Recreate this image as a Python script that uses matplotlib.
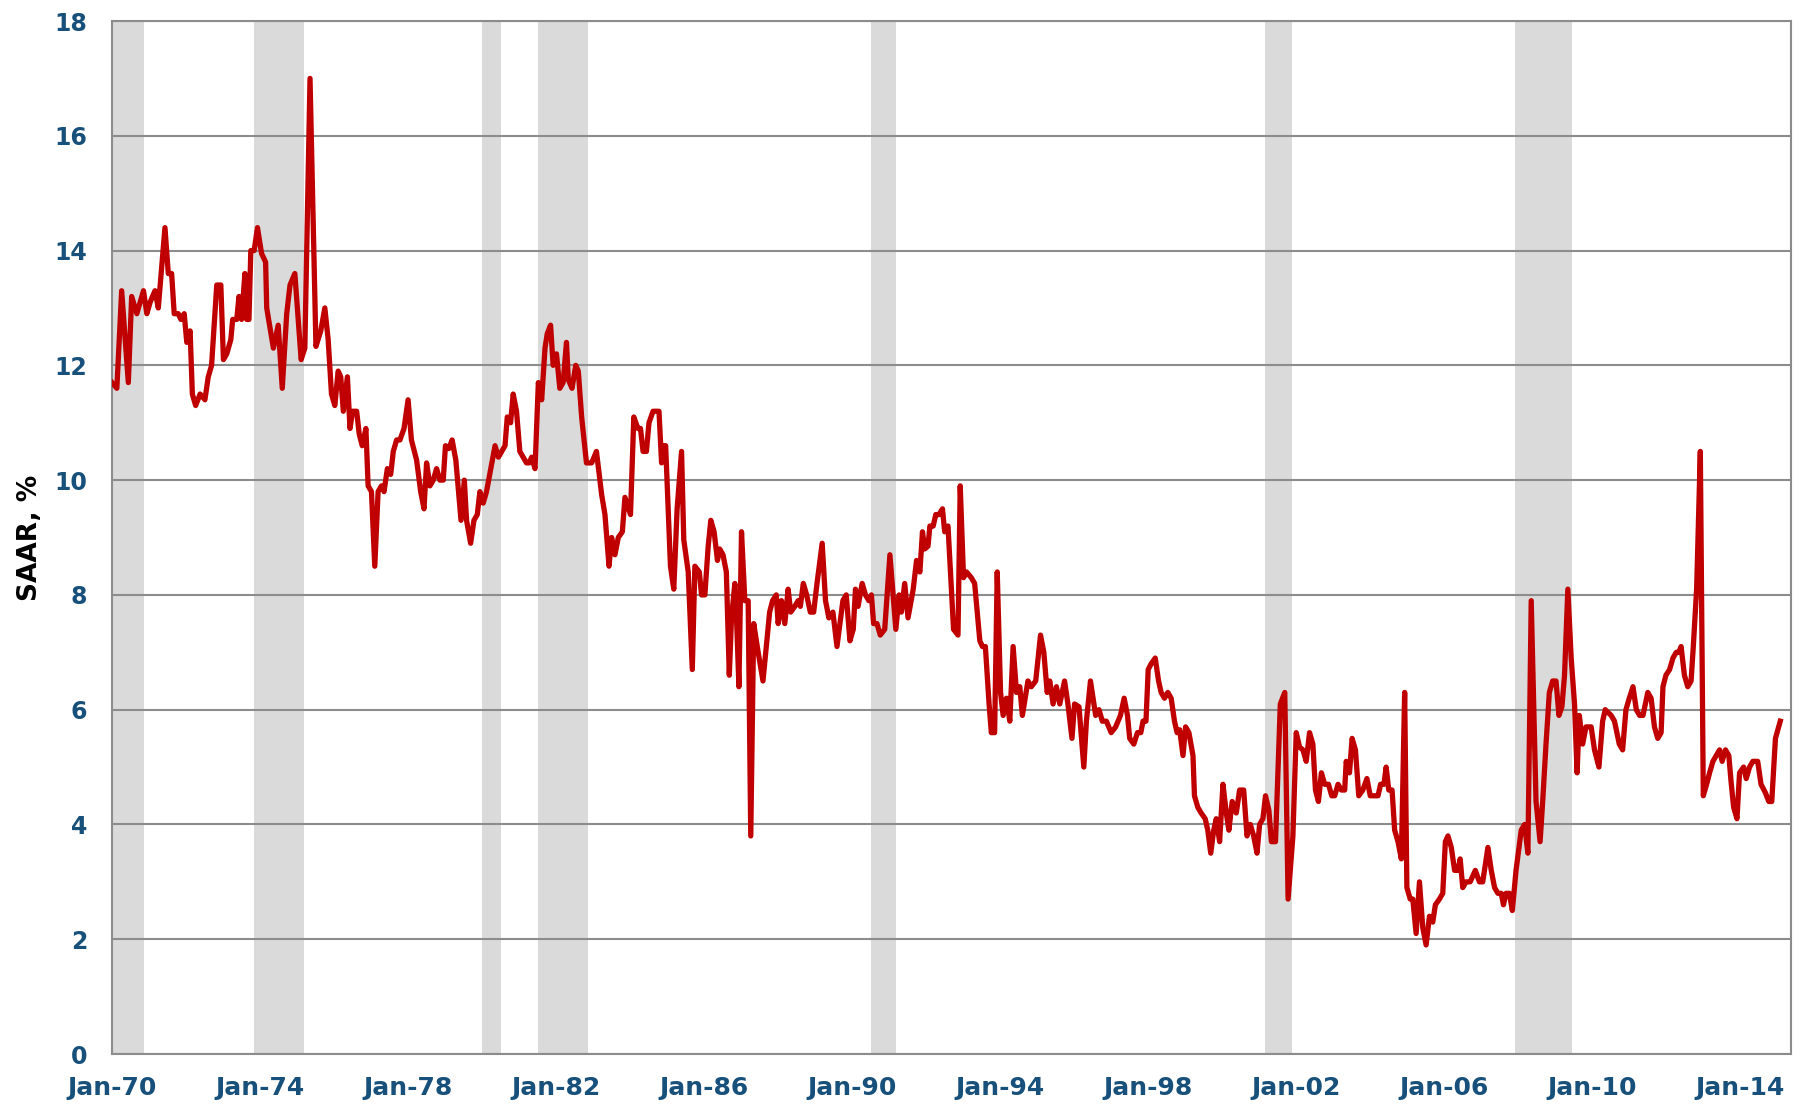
import matplotlib
matplotlib.use("Agg")
import matplotlib.pyplot as plt

# monthly saving rate (decimal year, SAAR %)
years = [
    1970.00, 1970.13, 1970.26, 1970.44, 1970.53, 1970.67, 1970.85, 1970.94, 1971.03, 1971.16,
    1971.25, 1971.43, 1971.52, 1971.61, 1971.68, 1971.79, 1971.86, 1971.95, 1972.02, 1972.11,
    1972.17, 1972.26, 1972.38, 1972.51, 1972.60, 1972.69, 1972.83, 1972.94, 1973.01, 1973.10,
    1973.21, 1973.26, 1973.37, 1973.43, 1973.50, 1973.59, 1973.64, 1973.70, 1973.75, 1973.84,
    1973.93, 1974.04, 1974.15, 1974.18, 1974.36, 1974.49, 1974.60, 1974.72, 1974.81, 1974.94,
    1975.11, 1975.21, 1975.35, 1975.51, 1975.64, 1975.75, 1975.84, 1975.93, 1976.02, 1976.11,
    1976.18, 1976.25, 1976.36, 1976.43, 1976.50, 1976.61, 1976.68, 1976.76, 1976.86, 1976.92,
    1977.01, 1977.10, 1977.19, 1977.28, 1977.35, 1977.44, 1977.53, 1977.60, 1977.69, 1977.78,
    1977.89, 1978.00, 1978.09, 1978.23, 1978.34, 1978.43, 1978.50, 1978.59, 1978.68, 1978.77,
    1978.86, 1978.95, 1979.01, 1979.10, 1979.19, 1979.29, 1979.43, 1979.52, 1979.58, 1979.69,
    1979.78, 1979.87, 1979.94, 1980.03, 1980.12, 1980.35, 1980.44, 1980.62, 1980.68, 1980.77,
    1980.84, 1980.93, 1981.02, 1981.20, 1981.27, 1981.34, 1981.43, 1981.52, 1981.61, 1981.70,
    1981.76, 1981.85, 1981.92, 1982.01, 1982.10, 1982.19, 1982.28, 1982.33, 1982.43, 1982.53,
    1982.60, 1982.69, 1982.82, 1982.96, 1983.09, 1983.23, 1983.32, 1983.43, 1983.50, 1983.59,
    1983.68, 1983.79, 1983.86, 1984.01, 1984.10, 1984.21, 1984.28, 1984.35, 1984.44, 1984.51,
    1984.62, 1984.78, 1984.85, 1984.89, 1984.96, 1985.09, 1985.18, 1985.27, 1985.39, 1985.45,
    1985.57, 1985.68, 1985.75, 1985.87, 1985.93, 1986.02, 1986.11, 1986.18, 1986.27, 1986.36,
    1986.42, 1986.51, 1986.60, 1986.68, 1986.74, 1986.83, 1986.87, 1986.94, 1987.01, 1987.10,
    1987.19, 1987.26, 1987.34, 1987.46, 1987.59, 1987.68, 1987.77, 1987.85, 1987.95, 1988.00,
    1988.09, 1988.18, 1988.27, 1988.34, 1988.45, 1988.54, 1988.60, 1988.68, 1988.77, 1988.87,
    1988.96, 1989.05, 1989.19, 1989.28, 1989.37, 1989.48, 1989.59, 1989.66, 1989.75, 1989.84,
    1989.94, 1990.03, 1990.09, 1990.16, 1990.27, 1990.36, 1990.45, 1990.52, 1990.58, 1990.67,
    1990.76, 1990.88, 1991.02, 1991.18, 1991.27, 1991.33, 1991.42, 1991.51, 1991.65, 1991.74,
    1991.83, 1991.90, 1991.96, 1992.05, 1992.10, 1992.19, 1992.26, 1992.35, 1992.44, 1992.50,
    1992.59, 1992.74, 1992.86, 1992.92, 1993.01, 1993.09, 1993.22, 1993.31, 1993.45, 1993.52,
    1993.60, 1993.70, 1993.76, 1993.85, 1993.92, 1994.01, 1994.08, 1994.17, 1994.26, 1994.35,
    1994.44, 1994.53, 1994.60, 1994.75, 1994.84, 1994.96, 1995.09, 1995.18, 1995.27, 1995.34,
    1995.43, 1995.52, 1995.61, 1995.74, 1995.83, 1995.94, 1996.01, 1996.13, 1996.26, 1996.33,
    1996.44, 1996.58, 1996.67, 1996.76, 1996.87, 1997.00, 1997.12, 1997.25, 1997.35, 1997.44,
    1997.50, 1997.61, 1997.71, 1997.80, 1997.86, 1997.94, 1998.00, 1998.08, 1998.19, 1998.28,
    1998.35, 1998.44, 1998.53, 1998.62, 1998.71, 1998.78, 1998.85, 1998.94, 1999.01, 1999.10,
    1999.21, 1999.25, 1999.34, 1999.43, 1999.54, 1999.61, 1999.69, 1999.77, 1999.84, 1999.93,
    2000.02, 2000.11, 2000.18, 2000.27, 2000.38, 2000.47, 2000.58, 2000.67, 2000.76, 2000.85,
    2000.94, 2001.01, 2001.10, 2001.17, 2001.26, 2001.33, 2001.44, 2001.57, 2001.69, 2001.78,
    2001.91, 2002.00, 2002.09, 2002.18, 2002.27, 2002.36, 2002.45, 2002.52, 2002.60, 2002.68,
    2002.77, 2002.87, 2002.96, 2003.04, 2003.13, 2003.22, 2003.31, 2003.35, 2003.44, 2003.51,
    2003.60, 2003.69, 2003.80, 2003.91, 2004.00, 2004.12, 2004.21, 2004.28, 2004.37, 2004.43,
    2004.50, 2004.59, 2004.66, 2004.75, 2004.84, 2004.93, 2004.99, 2005.08, 2005.15, 2005.24,
    2005.33, 2005.42, 2005.51, 2005.60, 2005.69, 2005.76, 2005.87, 2005.96, 2006.03, 2006.10,
    2006.19, 2006.28, 2006.37, 2006.43, 2006.50, 2006.59, 2006.70, 2006.84, 2006.95, 2007.04,
    2007.18, 2007.27, 2007.36, 2007.45, 2007.54, 2007.60, 2007.67, 2007.76, 2007.84, 2007.94,
    2008.08, 2008.17, 2008.26, 2008.35, 2008.48, 2008.59, 2008.66, 2008.75, 2008.84, 2008.93,
    2009.02, 2009.10, 2009.18, 2009.25, 2009.34, 2009.43, 2009.52, 2009.59, 2009.65, 2009.74,
    2009.83, 2009.97, 2010.06, 2010.18, 2010.28, 2010.35, 2010.51, 2010.60, 2010.73, 2010.82,
    2010.91, 2011.00, 2011.10, 2011.19, 2011.28, 2011.37, 2011.50, 2011.59, 2011.68, 2011.77,
    2011.86, 2011.91, 2011.99, 2012.09, 2012.18, 2012.27, 2012.34, 2012.40, 2012.49, 2012.58,
    2012.67, 2012.73, 2012.82, 2012.92, 2013.00, 2013.09, 2013.17, 2013.26, 2013.35, 2013.44,
    2013.51, 2013.60, 2013.69, 2013.75, 2013.82, 2013.91, 2013.98, 2014.09, 2014.16, 2014.25,
    2014.34, 2014.47, 2014.56, 2014.68, 2014.77, 2014.85, 2014.95, 2015.08,
]
saving_rate = [
    11.7, 11.6, 13.3, 11.7, 13.2, 12.9, 13.3, 12.9, 13.1, 13.3,
    13.0, 14.4, 13.6, 13.6, 12.9, 12.9, 12.8, 12.9, 12.4, 12.6,
    11.5, 11.3, 11.5, 11.4, 11.8, 12.0, 13.4, 13.4, 12.1, 12.2,
    12.45, 12.8, 12.8, 13.2, 12.8, 13.6, 12.8, 12.8, 14.0, 14.0,
    14.4, 13.95, 13.8, 13.0, 12.3, 12.7, 11.6, 12.9, 13.4, 13.6,
    12.1, 12.3, 17.0, 12.33, 12.6, 13.0, 12.45, 11.5, 11.3, 11.9,
    11.8, 11.2, 11.8, 10.9, 11.2, 11.2, 10.8, 10.6, 10.9, 9.9,
    9.8, 8.5, 9.8, 9.9, 9.8, 10.2, 10.1, 10.5, 10.7, 10.7,
    10.9, 11.4, 10.7, 10.35, 9.8, 9.5, 10.3, 9.9, 10.0, 10.2,
    10.0, 10.0, 10.6, 10.55, 10.7, 10.35, 9.3, 10.0, 9.3, 8.9,
    9.3, 9.4, 9.8, 9.6, 9.8, 10.6, 10.4, 10.6, 11.1, 11.0,
    11.5, 11.2, 10.5, 10.3, 10.3, 10.4, 10.2, 11.7, 11.4, 12.3,
    12.55, 12.7, 12.0, 12.2, 11.6, 11.7, 12.4, 11.75, 11.6, 12.0,
    11.9, 11.1, 10.3, 10.3, 10.5, 9.75, 9.4, 8.5, 9.0, 8.7,
    9.0, 9.1, 9.7, 9.4, 11.1, 10.9, 10.9, 10.5, 10.5, 11.0,
    11.2, 11.2, 10.3, 10.6, 10.6, 8.5, 8.1, 9.5, 10.5, 8.96,
    8.4, 6.7, 8.5, 8.4, 8.0, 8.0, 8.85, 9.3, 9.1, 8.6,
    8.8, 8.7, 8.4, 6.6, 7.6, 8.2, 7.7, 6.4, 9.1, 7.9,
    7.9, 3.8, 7.5, 7.0, 6.5, 7.1, 7.7, 7.9, 8.0, 7.5,
    7.9, 7.5, 8.1, 7.7, 7.8, 7.9, 7.8, 8.2, 8.0, 7.7,
    7.7, 8.2, 8.9, 7.9, 7.6, 7.7, 7.1, 7.45, 7.9, 8.0,
    7.2, 7.4, 8.1, 7.8, 8.2, 8.0, 7.9, 8.0, 7.5, 7.5,
    7.3, 7.4, 8.7, 7.4, 8.0, 7.7, 8.2, 7.6, 8.1, 8.6,
    8.4, 9.1, 8.8, 8.85, 9.2, 9.2, 9.4, 9.4, 9.5, 9.1,
    9.2, 7.4, 7.3, 9.9, 8.3, 8.4, 8.3, 8.2, 7.2, 7.1,
    7.1, 6.1, 5.6, 5.6, 8.4, 6.3, 5.9, 6.2, 5.8, 7.1,
    6.3, 6.4, 5.9, 6.5, 6.4, 6.5, 7.3, 7.0, 6.3, 6.5,
    6.1, 6.4, 6.1, 6.5, 6.1, 5.5, 6.1, 6.05, 5.0, 5.8,
    6.5, 5.9, 6.0, 5.8, 5.8, 5.6, 5.7, 5.9, 6.2, 5.9,
    5.5, 5.4, 5.6, 5.6, 5.8, 5.8, 6.7, 6.8, 6.9, 6.5,
    6.3, 6.2, 6.3, 6.2, 5.8, 5.6, 5.65, 5.2, 5.7, 5.6,
    5.2, 4.5, 4.3, 4.2, 4.1, 3.9, 3.5, 3.9, 4.1, 3.7,
    4.7, 4.2, 3.9, 4.4, 4.2, 4.6, 4.6, 3.8, 4.0, 3.8,
    3.5, 4.0, 4.1, 4.5, 4.25, 3.7, 3.7, 6.1, 6.3, 2.7,
    3.8, 5.6, 5.35, 5.3, 5.1, 5.6, 5.4, 4.6, 4.4, 4.9,
    4.7, 4.7, 4.5, 4.5, 4.7, 4.6, 4.6, 5.1, 4.9, 5.5,
    5.3, 4.5, 4.6, 4.8, 4.5, 4.5, 4.5, 4.7, 4.7, 5.0,
    4.6, 4.6, 3.9, 3.7, 3.4, 6.3, 2.9, 2.7, 2.7, 2.1,
    3.0, 2.2, 1.9, 2.4, 2.3, 2.6, 2.7, 2.8, 3.7, 3.8,
    3.6, 3.2, 3.2, 3.4, 2.9, 3.0, 3.0, 3.2, 3.0, 3.0,
    3.6, 3.2, 2.9, 2.8, 2.8, 2.6, 2.8, 2.8, 2.5, 3.2,
    3.9, 4.0, 3.5, 7.9, 4.4, 3.7, 4.4, 5.4, 6.3, 6.5,
    6.5, 5.9, 6.05, 6.6, 8.1, 6.9, 6.1, 4.9, 5.9, 5.4,
    5.7, 5.7, 5.3, 5.0, 5.8, 6.0, 5.9, 5.8, 5.4, 5.3,
    6.0, 6.2, 6.4, 6.0, 5.9, 5.9, 6.3, 6.2, 5.7, 5.5,
    5.6, 6.4, 6.6, 6.7, 6.9, 7.0, 7.0, 7.1, 6.6, 6.4,
    6.5, 7.1, 8.1, 10.5, 4.5, 4.7, 4.9, 5.1, 5.2, 5.3,
    5.1, 5.3, 5.2, 4.75, 4.3, 4.1, 4.9, 5.0, 4.8, 5.0,
    5.1, 5.1, 4.7, 4.55, 4.4, 4.4, 5.5, 5.8,
]

# recession periods (start, end)
rec_start = [1970.0, 1973.84, 1980.01, 1981.52, 1990.50, 2001.16, 2007.91]
rec_end = [1970.87, 1975.19, 1980.52, 1982.87, 1991.19, 2001.88, 2009.46]

tick_years = list(range(1970, 2015, 4))
tick_labels = ["Jan-%02d" % (y % 100) for y in tick_years]

fig = plt.figure(figsize=(18.1, 11.06), dpi=100)
ax = fig.add_axes([0.0619, 0.047, 0.9276, 0.934])

for s, e in zip(rec_start, rec_end):
    ax.axvspan(s, e, color="#dadada", lw=0, zorder=0)

ax.plot(years, saving_rate, color="#c00000", lw=3.8, zorder=3, solid_joinstyle="round")

ax.set_xlim(1970.0, 2015.37)
ax.set_ylim(0, 18)
ax.set_yticks(range(0, 19, 2))
ax.set_xticks(tick_years)
ax.set_xticklabels(tick_labels)
ax.grid(axis="y", color="#8c8c8c", lw=1.5, zorder=1)
ax.set_axisbelow(True)

for sp in ax.spines.values():
    sp.set_color("#8c8c8c")
    sp.set_linewidth(1.5)

ax.tick_params(axis="both", length=0, labelsize=17, labelcolor="#17507a", pad=18)
ax.tick_params(axis="x", labelsize=18, pad=16)
for lab in ax.get_xticklabels() + ax.get_yticklabels():
    lab.set_fontweight("bold")

ax.set_ylabel("SAAR, %", fontsize=19, fontweight="bold", labelpad=8)

fig.savefig("out.png", dpi=100)
